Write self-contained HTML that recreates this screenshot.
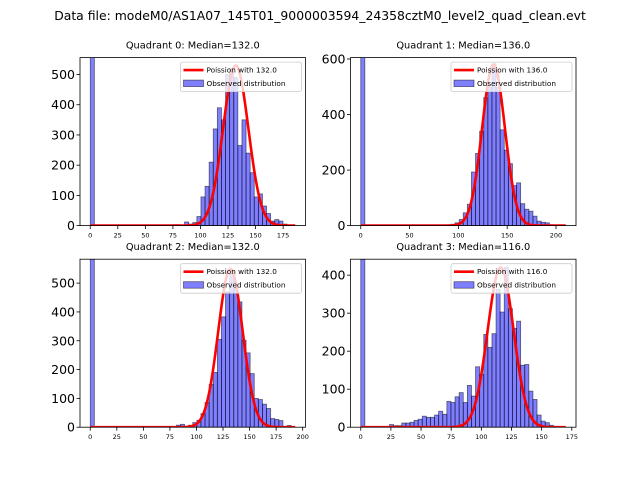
<!DOCTYPE html>
<html><head><meta charset="utf-8"><style>
body{margin:0;background:#fff;}
svg text{font-family:"DejaVu Sans","Liberation Sans",sans-serif;fill:#000;}
</style></head><body>
<svg id="fig" width="640" height="480" xmlns="http://www.w3.org/2000/svg">
<text x="320" y="20" font-size="12.4" text-anchor="middle">Data file: modeM0/AS1A07_145T01_9000003594_24358cztM0_level2_quad_clean.evt</text>
</svg>
<script>
const q0Counts=[2000,0,0,0,0,0,0,0,0,0,0,0,0,0,0,0,0,0,0,0,3,3,0,12,5,10,30,95,130,210,320,390,350,500,520,490,265,350,240,175,95,105,65,40,15,20,15,5,0,0];
const q1Counts=[2000,0,0,0,0,0,0,0,0,0,0,0,0,0,0,0,0,0,0,0,0,3,5,10,22,46,77,193,260,340,461,500,583,497,345,272,223,144,154,79,59,52,34,16,12,10,3,2,1,0];
const q2Counts=[2000,0,0,0,0,0,0,0,0,0,0,0,0,0,0,0,0,0,0,0,0,7,10,0,7,16,24,47,86,149,190,305,383,470,534,481,435,302,258,186,100,96,80,65,30,27,23,0,6,0];
const q3Counts=[2000,0,0,0,0,0,0,7,4,4,11,11,13,18,21,29,26,26,32,42,34,68,65,80,91,65,110,82,159,139,244,210,246,363,303,420,312,260,279,163,165,95,73,32,16,12,5,0,0,0];
const medians=[132,136,132,116];
const poissonPeaks=[530,580,550,420];
const dataMax=[186,210,193,170];
const yMaxes=[556,605,583,442];
const xTickLabels=[[0,25,50,75,100,125,150,175],[0,50,100,150,200],[0,25,50,75,100,125,150,175,200],[0,25,50,75,100,125,150,175]];
const yTickLabels=[[0,100,200,300,400,500],[0,200,400,600],[0,100,200,300,400,500],[0,100,200,300,400]];
const allCounts=[q0Counts,q1Counts,q2Counts,q3Counts];
const NS="http://www.w3.org/2000/svg";
const svg=document.getElementById('fig');
const boxes=[[80,57.6],[350.5,57.6],[80,259.2],[350.5,259.2]];
const W=225.5,H=168;
function mk(tag,attrs,parent){const e=document.createElementNS(NS,tag);for(const k in attrs)e.setAttribute(k,attrs[k]);(parent||svg).appendChild(e);return e;}
for(let q=0;q<4;q++){
  const [L,T]=boxes[q];
  const g=mk('g',{});
  
  
  const counts=allCounts[q];
  const bw=dataMax[q]/counts.length;
  const x0=-0.05*dataMax[q],x1=1.05*dataMax[q];
  const X=v=>L+(v-x0)/(x1-x0)*W;
  const Y=v=>T+H-v/yMaxes[q]*H;
  const cid='clip'+q;
  const cp=mk('clipPath',{id:cid},g);mk('rect',{x:L,y:T,width:W,height:H},cp);
  const bars=mk('g',{'clip-path':'url(#'+cid+')'},g);
  counts.forEach((c,i)=>{
    if(c<=0)return;
    const r=mk('rect',{x:X(i*bw),y:Y(c),width:X((i+1)*bw)-X(i*bw),height:Y(0)-Y(c),fill:'rgba(0,0,255,0.5)',stroke:'rgba(0,0,0,0.55)','stroke-width':0.8},bars);
    
    
  });
  let d='';
  for(let k=0;k<=300;k++){const v=k/300*dataMax[q];const p=poissonPeaks[q]*Math.exp(-Math.pow(v-medians[q],2)/(2*medians[q]));d+=(k?'L':'M')+X(v).toFixed(2)+','+Y(p).toFixed(2);}
  const pl=mk('path',{d:d,fill:'none',stroke:'red','stroke-width':2.6,'clip-path':'url(#'+cid+')'},g);
  
  
  const fr=mk('rect',{x:L,y:T,width:W,height:H,fill:'none',stroke:'#000','stroke-width':0.8},g);
  
  
  xTickLabels[q].forEach(v=>{
    const x=X(v);mk('line',{x1:x,x2:x,y1:T+H,y2:T+H+3.5,stroke:'#000','stroke-width':0.8},g);
    const t=mk('text',{x:x,y:T+H+12,'font-size':6.5,'text-anchor':'middle'},g);t.textContent=v;
    
    
  });
  yTickLabels[q].forEach(v=>{
    const y=Y(v);mk('line',{x1:L-3.5,x2:L,y1:y,y2:y,stroke:'#000','stroke-width':0.8},g);
    const t=mk('text',{x:L-5,y:y+4.5,'font-size':12.5,'text-anchor':'end'},g);t.textContent=v;
    
    
  });
  const tt=mk('text',{x:L+W/2,y:T-9,'font-size':9.8,'text-anchor':'middle'},g);
  tt.textContent='Quadrant '+q+': Median='+medians[q].toFixed(1);
  
  
  const lg=mk('g',{},g);
  
  
  const lx=L+W-125,ly=T+4.5;
  mk('rect',{x:lx,y:ly,width:121,height:29.5,fill:'rgba(255,255,255,0.8)',stroke:'#ccc','stroke-width':0.8,rx:2},lg);
  mk('line',{x1:lx+3,x2:lx+23,y1:ly+8,y2:ly+8,stroke:'red','stroke-width':2.6},lg);
  const t1=mk('text',{x:lx+26,y:ly+10.5,'font-size':7.3},lg);t1.textContent='Poission with '+medians[q].toFixed(1);
  
  
  mk('rect',{x:lx+3,y:ly+18,width:20,height:6.5,fill:'rgba(0,0,255,0.5)',stroke:'rgba(0,0,0,0.55)','stroke-width':0.8},lg);
  const t2=mk('text',{x:lx+26,y:ly+24,'font-size':7.3},lg);t2.textContent='Observed distribution';
  
  
}
</script>
</body></html>
